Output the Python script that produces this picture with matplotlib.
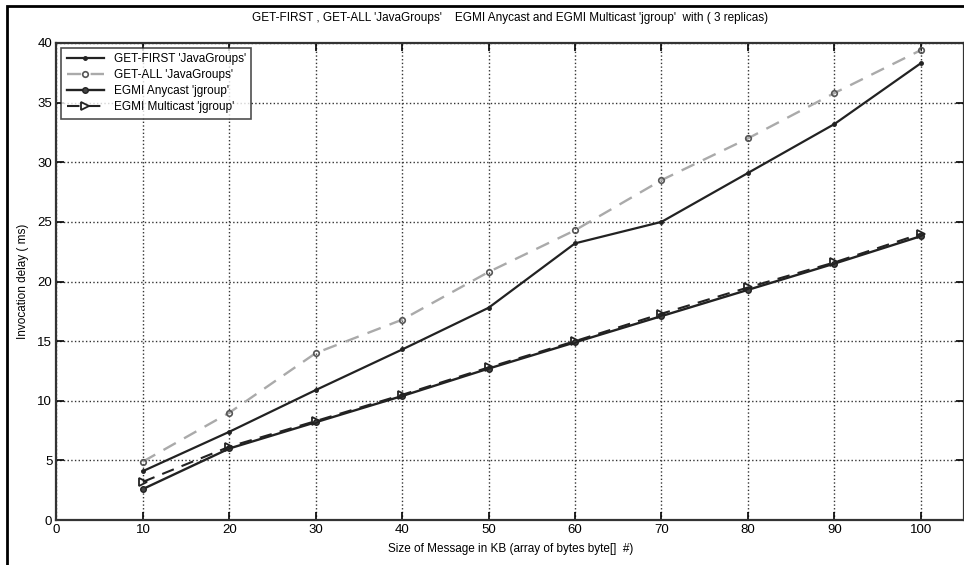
import numpy as np
import matplotlib
matplotlib.use("Agg")
import matplotlib.pyplot as plt
from matplotlib.patches import Rectangle

plt.rcParams['font.family'] = ['Liberation Sans Narrow', 'Liberation Sans', 'DejaVu Sans']

# message sizes (KB)
sizes = [10, 20, 30, 40, 50, 60, 70, 80, 90, 100]

# invocation delay (ms)
get_first = [4.1, 7.4, 10.9, 14.3, 17.8, 23.2, 25.0, 29.1, 33.2, 38.3]
get_all = [4.9, 9.0, 14.0, 16.8, 20.8, 24.3, 28.5, 32.0, 35.8, 39.4]
egmi_anycast = [2.6, 6.0, 8.2, 10.4, 12.7, 14.9, 17.1, 19.3, 21.5, 23.8]
egmi_multicast = [3.2, 6.15, 8.3, 10.5, 12.8, 15.0, 17.3, 19.5, 21.6, 24.0]

labels = ["GET-FIRST 'JavaGroups'", "GET-ALL 'JavaGroups'",
          "EGMI Anycast 'jgroup'", "EGMI Multicast 'jgroup'"]
title = ("GET-FIRST , GET-ALL 'JavaGroups'    EGMI Anycast and EGMI Multicast "
         "'jgroup'  with ( 3 replicas)")
xlabel = "Size of Message in KB (array of bytes byte[]  #)"
ylabel = "Invocation delay ( ms)"
xticks = [0, 10, 20, 30, 40, 50, 60, 70, 80, 90, 100]
yticks = [0, 5, 10, 15, 20, 25, 30, 35, 40]

fig = plt.figure(figsize=(9.64, 5.65), dpi=100)
# outer frame (left and top edges visible in the scan)
fig.patches.append(Rectangle((0.0075, -0.05), 1.1, 1.04, transform=fig.transFigure,
                             fill=False, edgecolor='black', linewidth=2))

ax = fig.add_axes([0.0586, 0.0796, 0.9414, 0.8443])

ax.plot(sizes, get_first, '-', color='#222222', lw=1.6, marker='.', ms=5, label=labels[0])
ax.plot(sizes, get_all, '--', color='#aaaaaa', lw=1.7, dashes=(6, 4), marker='o', ms=4,
        mfc='none', mec='#555555', mew=1.2, label=labels[1])
ax.plot(sizes, egmi_anycast, '-', color='#222222', lw=1.7, marker='o', ms=4,
        mfc='#444444', mec='#222222', label=labels[2])
ax.plot(sizes, egmi_multicast, '--', color='#222222', lw=1.5, dashes=(6, 4), marker='>', ms=6,
        mfc='none', mec='#222222', mew=1.3, label=labels[3])

ax.set_xlim(0, 105)
ax.set_ylim(0, 40)
ax.set_xticks(xticks)
ax.set_yticks(yticks)
ax.tick_params(direction='in', length=6, width=1.2, top=True, right=True,
               labelsize=9.5, pad=3)
ax.grid(True, linestyle=':', color='#333333', linewidth=1.0)
for s in ax.spines.values():
    s.set_linewidth(1.6)
    s.set_color('#333333')

ax.set_title(title, fontsize=8.5, pad=16)
ax.set_xlabel(xlabel, fontsize=8.5, labelpad=5)
ax.set_ylabel(ylabel, fontsize=8.5, labelpad=6)

leg = ax.legend(loc='upper left', fontsize=8.5, frameon=True, fancybox=False,
                edgecolor='#222222', handlelength=3.2, borderpad=0.45,
                labelspacing=0.35, borderaxespad=0.4)
leg.get_frame().set_linewidth(1.2)

fig.savefig("out.png", dpi=100)
